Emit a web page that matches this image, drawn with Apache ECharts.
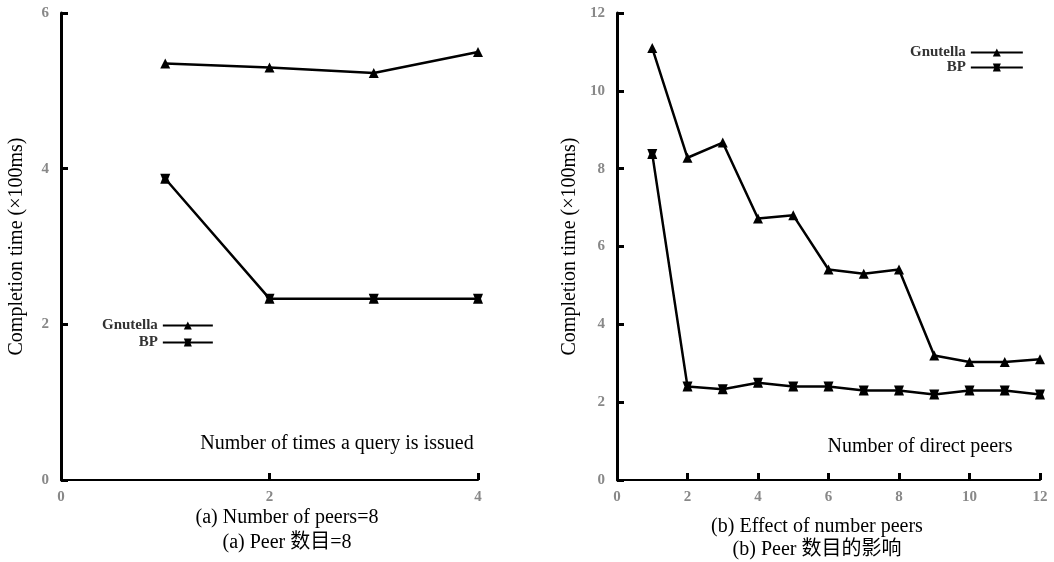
<!DOCTYPE html>
<html>
<head>
<meta charset="utf-8">
<script src="https://cdn.jsdelivr.net/npm/echarts@6/dist/echarts.min.js"></script>
<style>
  html, body { margin: 0; padding: 0; background: #fff; }
  #chart { width: 1054px; height: 562px; }
</style>
</head>
<body>
<div id="chart"></div>
<script>
// (a) number of times a query is issued
const queryTimes = [1, 2, 3, 4]
const gnutellaA = [5.35, 5.30, 5.23, 5.50]
const bpA = [3.87, 2.33, 2.33, 2.33]

// (b) number of direct peers
const directPeers = [1, 2, 3, 4, 5, 6, 7, 8, 9, 10, 11, 12]
const gnutellaB = [11.1, 8.28, 8.67, 6.72, 6.8, 5.41, 5.3, 5.41, 3.2, 3.03, 3.03, 3.1]
const bpB = [8.38, 2.4, 2.33, 2.5, 2.4, 2.4, 2.3, 2.3, 2.2, 2.3, 2.3, 2.2]

const serif = 'Liberation Serif'
const textFont = '20px "Liberation Serif", "Noto Sans CJK SC"'

const pairs = (xs, ys) => xs.map((x, i) => [x, ys[i]])

const axisX = (max, gridIndex) => ({
  type: 'value',
  gridIndex,
  min: 0,
  max,
  interval: 2,
  splitLine: { show: false },
  axisLine: { lineStyle: { color: '#000', width: 2 } },
  axisTick: { inside: true, length: 7, lineStyle: { color: '#000', width: 3 } },
  axisLabel: { color: '#888', fontFamily: serif, fontWeight: 'bold', fontSize: 15, margin: 10 }
})

const axisY = (max, gridIndex, gap) => ({
  type: 'value',
  gridIndex,
  min: 0,
  max,
  interval: 2,
  name: 'Completion time (×100ms)',
  nameLocation: 'middle',
  nameGap: gap,
  nameTextStyle: { color: '#000', fontFamily: serif, fontSize: 20 },
  splitLine: { show: false },
  axisLine: { show: true, lineStyle: { color: '#000', width: 3 } },
  axisTick: { inside: true, length: 7, lineStyle: { color: '#000', width: 3 } },
  axisLabel: { color: '#888', fontFamily: serif, fontWeight: 'bold', fontSize: 15, margin: 12 }
})

const lineSeries = (name, data, symbol, idx) => ({
  name,
  type: 'line',
  xAxisIndex: idx,
  yAxisIndex: idx,
  data,
  symbol,
  symbolSize: 10,
  itemStyle: { color: '#000' },
  lineStyle: { color: '#000', width: 2.5 },
  animation: false
})

const bpSymbol = 'path://M0,0 L10,0 L8,5 L10,10 L0,10 L2,5 Z'

const legendText = { fontFamily: serif, fontSize: 15, color: '#333', fontWeight: 'bold' }

const chart = echarts.init(document.getElementById('chart'))

const option = {
  backgroundColor: '#fff',
  animation: false,
  grid: [
    { left: 61, top: 13, width: 417, height: 467 },
    { left: 617, top: 13, width: 423, height: 467 }
  ],
  xAxis: [axisX(4, 0), axisX(12, 1)],
  yAxis: [axisY(6, 0, 34), axisY(12, 1, 37)],
  legend: [
    {
      left: 102, top: 318, orient: 'vertical', align: 'right',
      itemWidth: 50, itemHeight: 10, itemGap: 2, padding: 0,
      textStyle: legendText,
      data: ['Gnutella', 'BP']
    },
    {
      left: 910, top: 45, orient: 'vertical', align: 'right',
      itemWidth: 52, itemHeight: 10, itemGap: 0, padding: 0,
      textStyle: legendText,
      data: ['Gnutella', 'BP']
    }
  ],
  graphic: [
    { type: 'text', x: 337, y: 444, style: { text: 'Number of times a query is issued', font: textFont, fill: '#000', align: 'center', verticalAlign: 'middle' } },
    { type: 'text', x: 920, y: 447, style: { text: 'Number of direct peers', font: textFont, fill: '#000', align: 'center', verticalAlign: 'middle' } },
    { type: 'text', x: 287, y: 518, style: { text: '(a) Number of peers=8', font: textFont, fill: '#000', align: 'center', verticalAlign: 'middle' } },
    { type: 'text', x: 287, y: 543, style: { text: '(a) Peer 数目=8', font: textFont, fill: '#000', align: 'center', verticalAlign: 'middle' } },
    { type: 'text', x: 817, y: 527, style: { text: '(b) Effect of number peers', font: textFont, fill: '#000', align: 'center', verticalAlign: 'middle' } },
    { type: 'text', x: 817, y: 550, style: { text: '(b) Peer 数目的影响', font: textFont, fill: '#000', align: 'center', verticalAlign: 'middle' } }
  ],
  series: [
    lineSeries('Gnutella', pairs(queryTimes, gnutellaA), 'triangle', 0),
    lineSeries('BP', pairs(queryTimes, bpA), bpSymbol, 0),
    lineSeries('Gnutella', pairs(directPeers, gnutellaB), 'triangle', 1),
    lineSeries('BP', pairs(directPeers, bpB), bpSymbol, 1)
  ]
}

chart.setOption(option)
</script>
</body>
</html>
